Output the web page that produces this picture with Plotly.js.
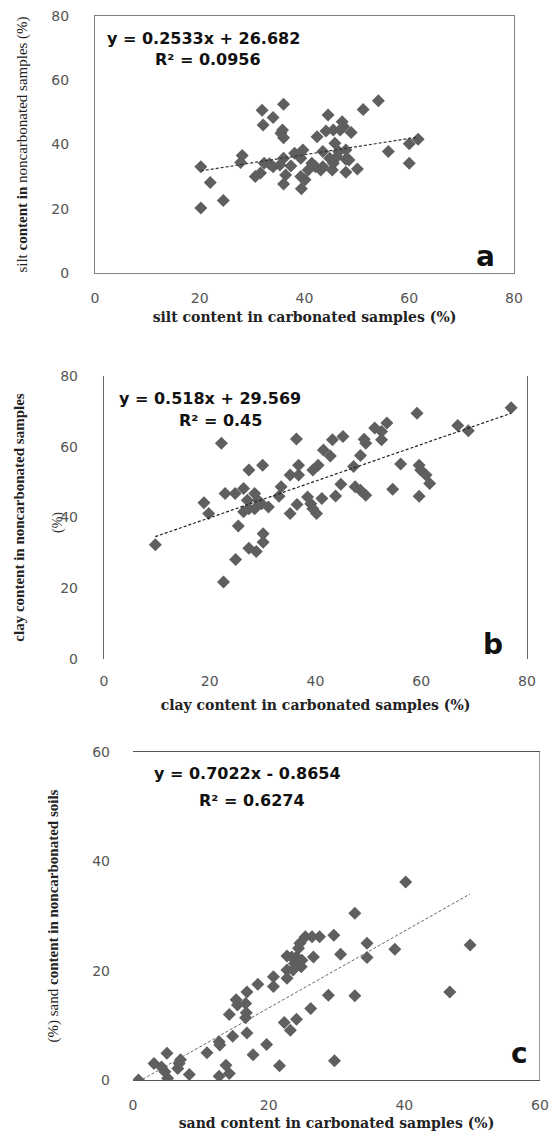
<!DOCTYPE html>
<html>
<head>
<meta charset="utf-8">
<script src="https://cdn.plot.ly/plotly-3.0.1.min.js"></script>
<style>html,body{margin:0;padding:0;background:#fff;}</style>
</head>
<body>
<div id="chart" style="width:554px;height:1140px;"></div>
<script>
// ---- data ----
var siltCarb = [20.2,22.0,20.2,24.5,28.1,27.8,31.9,34.0,32.1,36.0,35.8,35.5,36.0,30.6,31.6,32.3,33.3,35.3,36.0,36.4,36.0,37.4,38.1,39.1,39.7,39.3,39.3,39.4,40.7,41.4,42.1,42.4,43.1,43.5,44.1,44.5,45.5,45.8,43.5,44.8,45.3,45.5,46.2,46.5,47.2,46.8,47.5,47.9,47.9,47.9,48.9,48.5,50.1,51.2,54.1,56.0,60.0,60.0,61.7,40.1,34.0];
var siltNon  = [33.1,28.2,20.2,22.6,36.6,34.4,50.7,48.4,46.1,52.5,44.5,43.5,42.1,30.0,31.1,34.2,34.0,33.6,35.7,30.5,27.7,33.3,37.3,37.3,38.3,35.7,30.0,26.2,32.1,34.2,33.1,42.4,32.1,33.1,44.2,49.2,44.5,40.4,37.8,35.7,32.1,34.2,36.2,37.8,47.1,44.5,45.5,38.3,35.4,31.4,43.7,35.2,32.4,50.9,53.6,37.8,34.2,40.2,41.6,29.0,33.1];
var siltFit  = {slope: 0.2533, intercept: 26.682, eq: "y = 0.2533x + 26.682", r2: "R² = 0.0956"};

var clayCarb = [9.7,18.9,19.8,22.2,22.6,22.9,24.9,25.4,24.8,26.4,27.4,26.4,27.1,27.4,27.4,28.8,30.1,30.1,30.0,28.5,29.1,31.1,28.5,29.8,33.1,33.5,35.2,35.2,36.4,36.8,36.8,36.5,38.5,39.1,39.5,40.5,40.2,39.5,41.2,41.5,42.8,43.2,45.2,44.8,43.8,47.2,48.5,49.2,49.5,47.5,48.5,49.5,51.2,52.5,52.5,53.5,54.6,56.1,59.2,59.6,59.6,59.9,60.9,61.6,66.9,68.9,77.0];
var clayNon  = [32.3,44.2,41.1,61.0,21.8,46.8,28.1,37.6,46.8,48.2,53.4,41.6,44.9,42.5,31.3,30.4,35.4,33.0,54.8,46.8,44.9,43.0,42.5,43.9,46.0,48.7,41.1,52.0,62.2,54.8,52.0,43.7,45.8,43.9,53.4,54.8,41.1,42.5,45.4,59.1,57.4,62.0,62.9,49.4,46.1,54.4,57.5,62.1,61.0,48.7,47.7,46.3,65.3,64.3,62.0,66.7,48.0,55.1,69.5,46.0,54.8,53.4,52.0,49.6,66.0,64.5,71.0];
var clayFit  = {slope: 0.518, intercept: 29.569, eq: "y = 0.518x + 29.569", r2: "R² = 0.45"};

var sandCarb = [0.8,3.1,4.2,5.0,4.7,5.1,6.8,7.0,6.6,8.3,10.9,12.7,12.8,12.7,13.7,14.2,14.2,14.7,15.2,15.4,16.6,16.8,16.7,16.6,16.8,17.7,18.4,19.7,20.7,20.7,21.6,22.3,22.7,22.7,22.7,23.2,24.1,23.8,24.1,24.4,24.6,24.8,23.4,25.4,26.4,27.5,26.6,26.2,28.8,29.6,29.7,30.6,32.7,32.7,34.5,34.5,38.6,40.2,46.7,49.7,23.6,24.9];
var sandNon  = [0.0,3.0,2.4,4.9,1.5,0.3,3.0,3.7,2.1,1.0,5.0,7.0,6.4,0.7,2.7,1.2,12.0,8.0,14.7,13.7,14.0,16.1,12.3,11.4,8.6,4.6,17.5,6.5,18.9,17.1,2.6,10.5,18.6,20.1,22.7,9.1,11.1,21.3,22.5,24.1,25.0,20.7,22.5,26.2,26.2,26.2,22.5,13.1,15.5,26.5,3.5,23.0,30.5,15.4,25.0,22.4,23.9,36.2,16.1,24.7,20.1,21.9];
var sandFit  = {slope: 0.7022, intercept: -0.8654, eq: "y = 0.7022x - 0.8654", r2: "R² = 0.6274"};

var xTitles = ["silt content in carbonated samples (%)", "clay content in carbonated samples (%)", "sand content in carbonated samples (%)"];
var yTitles = ["silt <b>content in</b> noncarbonated samples (%)", "<b>clay content in noncarbonated samples</b>", "(%) sand <b>content in noncarbonated soils</b>"];
var panelLetters = ["a", "b", "c"];
var ticksA = [0,20,40,60,80];
var ticksC = [0,20,40,60];

// ---- helpers ----
var W = 554, H = 1140;
function fx(p){ return p / W; }
function fy(p){ return 1 - p / H; }
function fitLine(xs, fit){
  var lo = Math.min.apply(null, xs), hi = Math.max.apply(null, xs);
  return {x: [lo, hi], y: [fit.slope*lo + fit.intercept, fit.slope*hi + fit.intercept]};
}

var markerStyle = {symbol: "diamond", size: 10, color: "#5f5f5f", line: {width: 0}};
var traces = [];
[[siltCarb, siltNon, siltFit, "x", "y", "#333", 1.2],
 [clayCarb, clayNon, clayFit, "x2", "y2", "#222", 1.2],
 [sandCarb, sandNon, sandFit, "x3", "y3", "#666", 1]].forEach(function(p){
  traces.push({type: "scatter", mode: "markers", x: p[0], y: p[1], xaxis: p[3], yaxis: p[4], marker: markerStyle, hoverinfo: "x+y"});
  var fl = fitLine(p[0], p[2]);
  traces.push({type: "scatter", mode: "lines", x: fl.x, y: fl.y, xaxis: p[3], yaxis: p[4], line: {color: p[5], width: p[6], dash: "3px,2px"}, hoverinfo: "skip"});
});

var tickFont = {family: "DejaVu Sans, sans-serif", size: 14, color: "#555"};
var xTitleFont = {family: "DejaVu Serif, serif", size: 14, color: "#222", weight: "bold"};
var yTitleFont = {family: "Liberation Serif, serif", size: 15, color: "#222"};

function xax(dom, range, ticks, title, standoff, opts){
  var a = {domain: dom, range: range, tickvals: ticks, ticks: "", showgrid: false, zeroline: false,
    tickfont: tickFont, ticklabelstandoff: 12, fixedrange: true,
    title: {text: title, font: xTitleFont, standoff: standoff}};
  for (var k in opts) a[k] = opts[k];
  return a;
}
function yax(dom, range, ticks, title, standoff, opts){
  var a = {domain: dom, range: range, tickvals: ticks, ticks: "", showgrid: false, zeroline: false,
    tickfont: tickFont, ticklabelstandoff: 22, fixedrange: true,
    title: {text: title, font: yTitleFont, standoff: standoff}};
  for (var k in opts) a[k] = opts[k];
  return a;
}

var eqFont = {family: "DejaVu Sans, sans-serif", size: 16, color: "#111", weight: "bold"};
function ann(x, y, text, font, xanchor){
  return {xref: "paper", yref: "paper", x: fx(x), y: fy(y), text: text, showarrow: false,
    xanchor: xanchor || "left", yanchor: "middle", font: font};
}
var letterFont = {family: "DejaVu Sans, sans-serif", size: 28, color: "#111", weight: "bold"};

var layout = {
  width: W, height: H, margin: {l: 0, r: 0, t: 0, b: 0},
  paper_bgcolor: "#fff", plot_bgcolor: "rgba(0,0,0,0)", showlegend: false,
  xaxis: xax([fx(95), fx(514)], [0, 80], ticksA, xTitles[0], 7, {anchor: "y", showline: true, mirror: true, linecolor: "#808080", linewidth: 1}),
  yaxis: yax([fy(273), fy(16)], [0, 80], ticksA, yTitles[0], 20, {anchor: "x", showline: true, mirror: true, linecolor: "#808080", linewidth: 1}),
  xaxis2: xax([fx(104), fx(527)], [0, 80], ticksA, xTitles[1], 12, {anchor: "y2", showline: false}),
  yaxis2: yax([fy(659), fy(376)], [0, 80], ticksA, yTitles[1], 32, {anchor: "x2", showline: true, mirror: true, linecolor: "#666", linewidth: 1.2}),
  xaxis3: xax([fx(133), fx(540)], [0, 60], ticksC, xTitles[2], 6, {anchor: "y3", showline: true, mirror: true, linecolor: "#555", linewidth: 1.2}),
  yaxis3: yax([fy(1080), fy(752)], [0, 60], ticksC, yTitles[2], 29, {anchor: "x3", showline: false}),
  shapes: [{type: "line", xref: "x3", yref: "y3", x0: 60, x1: 60, y0: 0, y1: 60, line: {color: "#555", width: 1.2}}],
  annotations: [
    ann(105, 39, siltFit.eq, eqFont), ann(153, 60, siltFit.r2, eqFont),
    ann(117, 398, clayFit.eq, eqFont), ann(177, 420, clayFit.r2, eqFont),
    ann(152, 773, sandFit.eq, eqFont), ann(197, 800, sandFit.r2, eqFont),
    ann(485, 256, panelLetters[0], letterFont, "center"),
    ann(493, 644, panelLetters[1], letterFont, "center"),
    ann(519, 1053, panelLetters[2], letterFont, "center"),
    {xref: "paper", yref: "paper", x: fx(58), y: fy(523), text: "(%)", textangle: -90, showarrow: false,
     xanchor: "center", yanchor: "middle", font: {family: "Liberation Serif, serif", size: 14, color: "#333"}}
  ]
};

Plotly.newPlot("chart", traces, layout, {staticPlot: true, displayModeBar: false});
</script>
</body>
</html>
